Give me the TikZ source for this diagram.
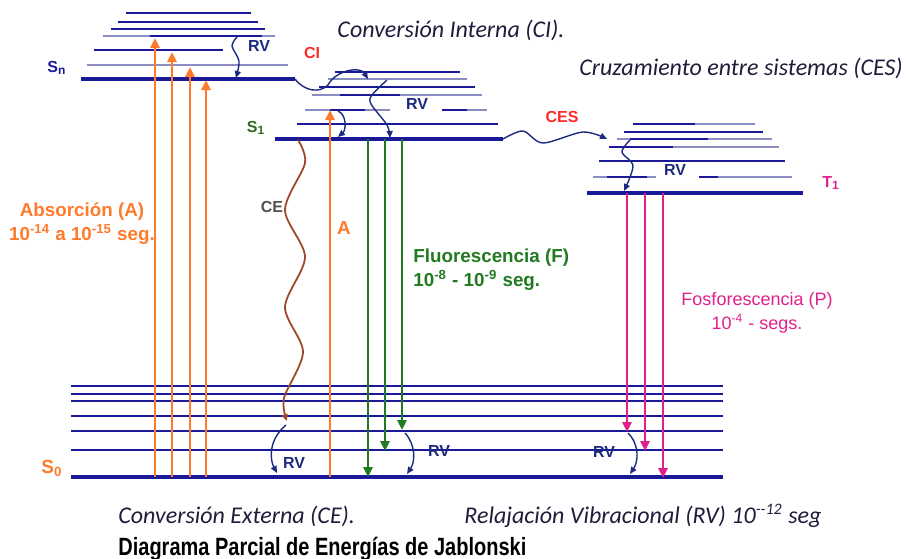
\documentclass[tikz,border=0pt]{standalone}
\usepackage{fontspec}
\setmainfont{Liberation Sans}
\newfontfamily\cursiva{Carlito}
\newfontfamily\titular[FakeStretch=0.8]{Liberation Sans}
\usetikzlibrary{arrows.meta}
\definecolor{azul}{HTML}{1A1A99}
\definecolor{azulclaro}{HTML}{8C8CC4}
\definecolor{azulrv}{HTML}{1C2A80}
\definecolor{naranja}{HTML}{FF7A2A}
\definecolor{verde}{HTML}{217A21}
\definecolor{verdes}{HTML}{2E6B1F}
\definecolor{rosa}{HTML}{E0208C}
\definecolor{rojo}{HTML}{FF2A2A}
\definecolor{cafe}{HTML}{9B4A2A}
\definecolor{gris}{HTML}{55504A}
\definecolor{tinta}{HTML}{1E1E3C}

\begin{document}
\begin{tikzpicture}[x=0.5pt,y=-0.5pt,
  nivel/.style={draw=azul,line width=1pt},
  claro/.style={draw=azulclaro,line width=1pt},
  base/.style={draw=azul,line width=2pt},
  absor/.style={naranja,line width=1.4pt,-{Triangle[length=5pt,width=4.5pt]}},
  fluor/.style={verde,line width=1.4pt,-{Triangle[length=5pt,width=4.5pt]}},
  fosfo/.style={rosa,line width=1.4pt,-{Triangle[length=5pt,width=4.5pt]}},
  rv/.style={azulrv,line width=0.7pt,-{Triangle[length=3.5pt,width=3pt]}},
  etiq/.style={font=\bfseries\fontsize{8}{9.6}\selectfont},
  texto/.style={font=\bfseries\fontsize{9.4}{12}\selectfont,align=center},
  nota/.style={tinta,font=\cursiva\itshape\fontsize{12}{14}\selectfont}]
\useasboundingbox (0,0) rectangle (908,558);

% niveles S_n
\draw[nivel] (126,13) -- (251,13);
\draw[nivel] (118,22) -- (258,22);
\draw[nivel] (111,29) -- (265,29);
\draw[claro] (103,36) -- (275,36);
\draw[nivel] (150,36) -- (262,36);
\draw[nivel] (94,50) -- (223,50);
\draw[claro] (87,65) -- (288,65);
\draw[base] (81,79) -- (295,79);

% niveles S_1
\draw[nivel] (335,72) -- (460,72);
\draw[claro] (328,79) -- (467,79);
\draw[nivel] (319,87) -- (475,87);
\draw[claro] (312,95) -- (482,95);
\draw[nivel] (340,95) -- (400,95);
\draw[claro] (305,110) -- (390,110);
\draw[nivel] (330,110) -- (365,110);
\draw[claro] (442,110) -- (487,110);
\draw[nivel] (442,110) -- (467,110);
\draw[nivel] (297,124) -- (498,124);
\draw[base] (275,139) -- (503,139);

% niveles T_1
\draw[claro] (633,124) -- (755,124);
\draw[nivel] (633,124) -- (695,124);
\draw[nivel] (624,132) -- (763,132);
\draw[claro] (617,139) -- (772,139);
\draw[nivel] (630,139) -- (708,139);
\draw[claro] (609,147) -- (779,147);
\draw[nivel] (609,147) -- (673,147);
\draw[nivel] (599,161) -- (785,161);
\draw[claro] (593,177) -- (656,177);
\draw[nivel] (607,177) -- (647,177);
\draw[claro] (699,177) -- (792,177);
\draw[nivel] (699,177) -- (718,177);
\draw[base] (587,193) -- (803,193);

% niveles S_0
\draw[nivel] (71,386) -- (723,386);
\draw[nivel] (71,394) -- (723,394);
\draw[nivel] (71,401) -- (723,401);
\draw[nivel] (71,416) -- (723,416);
\draw[nivel] (71,431) -- (723,431);
\draw[nivel] (71,450) -- (723,450);
\draw[base] (71,477) -- (723,477);

% puntos de las transiciones
\coordinate (a1) at (155,477); \coordinate (a1s) at (155,38);
\coordinate (a2) at (172,477); \coordinate (a2s) at (172,52);
\coordinate (a3) at (190,477); \coordinate (a3s) at (190,67);
\coordinate (a4) at (206,477); \coordinate (a4s) at (206,80);
\coordinate (a5) at (330,477); \coordinate (a5s) at (330,110);
\coordinate (f1) at (368,139); \coordinate (f1s) at (368,477);
\coordinate (f2) at (385,139); \coordinate (f2s) at (385,451);
\coordinate (f3) at (402,139); \coordinate (f3s) at (402,430);
\coordinate (p1) at (627,193); \coordinate (p1s) at (627,432);
\coordinate (p2) at (645,193); \coordinate (p2s) at (645,451);
\coordinate (p3) at (663,193); \coordinate (p3s) at (663,478);

\draw[absor] (a1) -- (a1s);
\draw[absor] (a2) -- (a2s);
\draw[absor] (a3) -- (a3s);
\draw[absor] (a4) -- (a4s);
\draw[absor] (a5) -- (a5s);
\draw[fluor] (f1) -- (f1s);
\draw[fluor] (f2) -- (f2s);
\draw[fluor] (f3) -- (f3s);
\draw[fosfo] (p1) -- (p1s);
\draw[fosfo] (p2) -- (p2s);
\draw[fosfo] (p3) -- (p3s);

% relajaciones y conversiones
\coordinate (rvn) at (237,37); \coordinate (rvns) at (236,78);
\coordinate (rv1) at (387,80); \coordinate (rv1s) at (390,138);
\coordinate (rvt) at (630,140); \coordinate (rvts) at (624,191);
\coordinate (rva) at (338,111); \coordinate (rvas) at (338,137);
\coordinate (rvb) at (286,425); \coordinate (rvbs) at (277,473);
\coordinate (rvc) at (405,433); \coordinate (rvcs) at (407,474);
\coordinate (rvd) at (628,433); \coordinate (rvds) at (630,474);
\coordinate (ci) at (295,79); \coordinate (cis) at (368,79);
\coordinate (ces) at (503,139); \coordinate (cess) at (607,139);
\coordinate (ce) at (298,140); \coordinate (ces0) at (287,421);

\draw[rv] plot[smooth] coordinates {(rvn) (232,46) (239,61) (rvns)};
\draw[rv] plot[smooth] coordinates {(rv1) (372,95) (371,104) (387,125) (rv1s)};
\draw[rv] plot[smooth] coordinates {(rvt) (622,152) (633,166) (rvts)};
\draw[rv] (rva) .. controls (347,115) and (346,130) .. (rvas);
\draw[rv] (rvb) .. controls (268,440) and (270,460) .. (rvbs);
\draw[rv] (rvc) .. controls (416,445) and (415,462) .. (rvcs);
\draw[rv] (rvd) .. controls (640,445) and (638,462) .. (rvds);
\draw[rv] (ci) .. controls (305,92) and (320,93) .. (328,85) .. controls (336,70) and (360,66) .. (cis);
\draw[rv] plot[smooth] coordinates {(ces) (523,131) (543,143) (583,132) (cess)};
\draw[cafe,line width=0.9pt,-{Triangle[length=3.5pt,width=3pt]}] plot[smooth] coordinates {(ce) (305,163) (285,210) (305,257) (285,307) (303,352) (284,398) (ces0)};

% etiquetas
\node[etiq,azul] (sn) at (57,68) {S\textsubscript{n}};
\node[etiq,verdes] (s1) at (256,128) {S\textsubscript{1}};
\node[etiq,rosa] (t1) at (831,183) {T\textsubscript{1}};
\node[etiq,naranja,font=\bfseries\fontsize{9.5}{11}\selectfont] (s0) at (52,468) {S\textsubscript{0}};
\node[etiq,azulrv] (rvsn) at (259,46) {RV};
\node[etiq,azulrv] (rvs1) at (417,104) {RV};
\node[etiq,azulrv] (rvt1) at (675,170) {RV};
\node[etiq,azulrv] (rvs0a) at (294,463) {RV};
\node[etiq,azulrv] (rvs0b) at (439,451) {RV};
\node[etiq,azulrv] (rvs0c) at (604,452) {RV};
\node[etiq,rojo] (lci) at (312,53) {CI};
\node[etiq,rojo] (lces) at (562,117) {CES};
\node[etiq,gris] (lce) at (272,207) {CE};
\node[texto,naranja] (la) at (344,228) {A};

\node[texto,naranja] (absorcion) at (82,224) {Absorción (A)\\10\textsuperscript{-14} a 10\textsuperscript{-15} seg.};
\node[texto,verde,align=left,anchor=west,inner sep=0pt] (fluorescencia) at (413,270) {Fluorescencia (F)\\10\textsuperscript{-8} - 10\textsuperscript{-9} seg.};
\node[texto,rosa,font=\fontsize{9}{12}\selectfont] (fosforescencia) at (757,313) {Fosforescencia (P)\\10\textsuperscript{-4} - segs.};

\node[nota] (notaci) at (451,30) {Conversión Interna (CI).};
\node[nota] (notaces) at (741,68) {Cruzamiento entre sistemas (CES)};
\node[nota,anchor=west,inner sep=0pt] (notace) at (118,516) {Conversión Externa (CE).};
\node[nota,anchor=west,inner sep=0pt] (notarv) at (464,516) {Relajación Vibracional (RV) 10\textsuperscript{--12} seg};
\node[font=\titular\bfseries\fontsize{12.5}{15}\selectfont,anchor=base west,inner sep=0pt] (titulo) at (118,555) {Diagrama Parcial de Energías de Jablonski};
\end{tikzpicture}
\end{document}
